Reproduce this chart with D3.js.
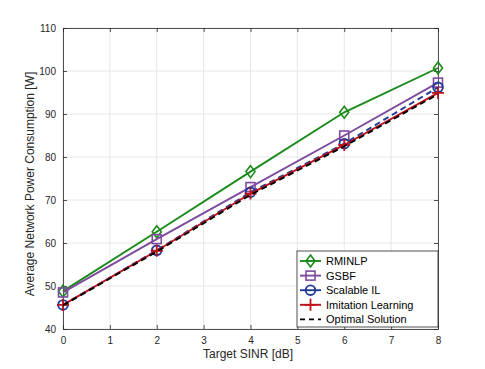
<!DOCTYPE html>
<html><head><meta charset="utf-8">
<script src="https://cdn.jsdelivr.net/npm/d3@7"></script>
<style>body{margin:0;background:#fff}svg{display:block}text{font-family:"Liberation Sans",Arial,sans-serif}</style>
</head><body><svg id="c" width="485" height="369"></svg>
<script>
const sinr = [0, 2, 4, 6, 8];
const rminlp = [48.8, 62.6, 76.6, 90.4, 100.7];
const gsbf = [48.5, 60.9, 73.0, 85.0, 97.3];
const scalableIL = [45.6, 58.3, 71.8, 83.1, 96.2];
const imitation = [45.6, 58.2, 71.5, 82.8, 94.9];
const optimal = [45.5, 58.0, 71.2, 82.5, 94.6];
const xTicks = [0,1,2,3,4,5,6,7,8];
const yTicks = [40,50,60,70,80,90,100,110];
const seriesNames = ["RMINLP","GSBF","Scalable IL","Imitation Learning","Optimal Solution"];

const series = [
  {name: seriesNames[0], vals: rminlp, color:"#1a8a1a", marker:"diamond", dash:null},
  {name: seriesNames[1], vals: gsbf, color:"#7e4a9e", marker:"square", dash:null},
  {name: seriesNames[2], vals: scalableIL, color:"#1f3a9a", marker:"circle", dash:"6,4"},
  {name: seriesNames[3], vals: imitation, color:"#c0101a", marker:"plus", dash:null},
  {name: seriesNames[4], vals: optimal, color:"#000000", marker:null, dash:"6,4"}
];

const L=63, R=438, T=28, B=329;
const x = d3.scaleLinear().domain([0,8]).range([L,R]);
const y = d3.scaleLinear().domain([40,110]).range([B,T]);
const svg = d3.select("#c");

// grid
svg.append("g").selectAll("line").data(xTicks).join("line")
  .attr("x1",d=>x(d)).attr("x2",d=>x(d)).attr("y1",T).attr("y2",B)
  .attr("stroke","#e6e6e6").attr("stroke-width",1);
svg.append("g").selectAll("line").data(yTicks).join("line")
  .attr("x1",L).attr("x2",R).attr("y1",d=>y(d)).attr("y2",d=>y(d))
  .attr("stroke","#e6e6e6").attr("stroke-width",1);

// axes
const axCol="#262626";
const xa = svg.append("g").attr("transform",`translate(0,${B})`)
  .call(d3.axisBottom(x).tickValues(xTicks).tickSizeInner(-4).tickSizeOuter(0).tickPadding(8));
const ya = svg.append("g").attr("transform",`translate(${L},0)`)
  .call(d3.axisLeft(y).tickValues(yTicks).tickSizeInner(-4).tickSizeOuter(0).tickPadding(7));
const xt = svg.append("g").attr("transform",`translate(0,${T})`)
  .call(d3.axisTop(x).tickValues(xTicks).tickSizeInner(-4).tickSizeOuter(0).tickFormat(""));
const yr = svg.append("g").attr("transform",`translate(${R},0)`)
  .call(d3.axisRight(y).tickValues(yTicks).tickSizeInner(-4).tickSizeOuter(0).tickFormat(""));
[xa,ya,xt,yr].forEach(g=>{
  g.selectAll("path").attr("stroke",axCol).attr("stroke-width",0.8);
  g.selectAll("line").attr("stroke",axCol).attr("stroke-width",0.8);
  g.selectAll("text").attr("fill",axCol).style("font-size","10px").style("font-family","Liberation Sans, Arial, sans-serif");
});

// markers
function drawMarker(g, type, cx, cy, color){
  if(type==="diamond"){
    g.append("path").attr("d",`M${cx},${cy-6}L${cx+4.5},${cy}L${cx},${cy+6}L${cx-4.5},${cy}Z`)
      .attr("fill","none").attr("stroke",color).attr("stroke-width",1.6);
  } else if(type==="square"){
    g.append("rect").attr("x",cx-4.5).attr("y",cy-4.5).attr("width",9).attr("height",9)
      .attr("fill","none").attr("stroke",color).attr("stroke-width",1.6);
  } else if(type==="circle"){
    g.append("circle").attr("cx",cx).attr("cy",cy).attr("r",4.8)
      .attr("fill","none").attr("stroke",color).attr("stroke-width",1.9);
  } else if(type==="plus"){
    g.append("path").attr("d",`M${cx-6},${cy}H${cx+6}M${cx},${cy-6}V${cy+6}`)
      .attr("fill","none").attr("stroke",color).attr("stroke-width",1.8);
  }
}

const line = d3.line().x((d,i)=>x(sinr[i])).y(d=>y(d));
series.forEach(s=>{
  const g = svg.append("g");
  g.append("path").attr("d",line(s.vals)).attr("fill","none")
    .attr("stroke",s.color).attr("stroke-width",1.9)
    .attr("stroke-dasharray",s.dash);
  if(s.marker) s.vals.forEach((v,i)=>drawMarker(g,s.marker,x(sinr[i]),y(v),s.color));
});

// labels
svg.append("text").attr("x",248).attr("y",358).attr("text-anchor","middle")
  .style("font-size","12px").attr("fill",axCol).text("Target SINR [dB]");
svg.append("text").attr("transform",`translate(34,184) rotate(-90)`).attr("text-anchor","middle")
  .style("font-size","12px").attr("fill",axCol).text("Average Network Power Consumption [W]");

// legend
const lg = svg.append("g");
const lx=297, ly=251, lw=141, lh=76;
lg.append("rect").attr("x",lx).attr("y",ly).attr("width",lw).attr("height",lh)
  .attr("fill","#fff").attr("stroke",axCol).attr("stroke-width",0.8);
series.forEach((s,i)=>{
  const cy = ly+10+i*14.6;
  lg.append("line").attr("x1",lx+3).attr("x2",lx+24).attr("y1",cy).attr("y2",cy)
    .attr("stroke",s.color).attr("stroke-width",1.9)
    .attr("stroke-dasharray", s.marker? null : "5,4");
  if(s.marker) drawMarker(lg,s.marker,lx+13.5,cy,s.color);
  lg.append("text").attr("x",lx+29).attr("y",cy+4).style("font-size","11px")
    .attr("fill","#000").text(s.name);
});
</script></body></html>
